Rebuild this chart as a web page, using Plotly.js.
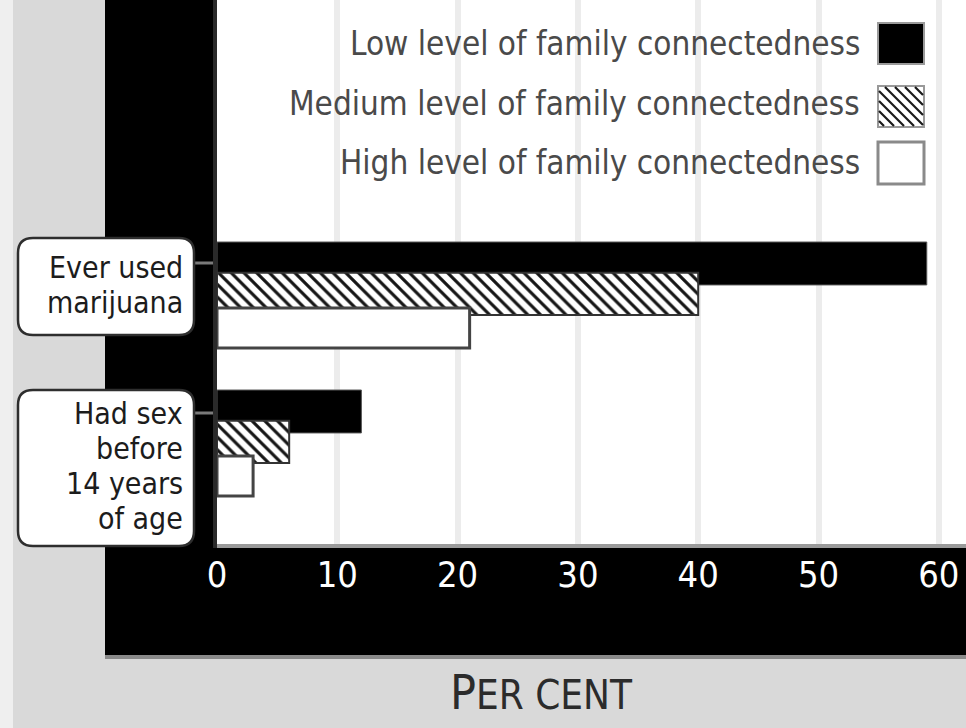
<!DOCTYPE html>
<html>
<head>
<meta charset="utf-8">
<script src="https://cdn.plot.ly/plotly-3.0.1.min.js"></script>
<style>
  html, body { margin: 0; padding: 0; background: #d9d9d9; }
  #chart { width: 966px; height: 728px; }
</style>
</head>
<body>
<div id="chart"></div>
<script>
// Share of teenagers by level of family connectedness (per cent)
const categories = ['Ever used marijuana', 'Had sex before 14 years of age'];
const categoryLines = [['Ever used', 'marijuana'], ['Had sex', 'before', '14 years', 'of age']];
const seriesNames = [
  'Low level of family connectedness',
  'Medium level of family connectedness',
  'High level of family connectedness'
];
const lowValues = [59, 12];
const mediumValues = [40, 6];
const highValues = [21, 3];
const xTickValues = [0, 10, 20, 30, 40, 50, 60];
const xTickLabels = ['0', '10', '20', '30', '40', '50', '60'];
const axisTitle = 'P<span style="font-size:40px">ER CENT</span>';

// page geometry (pixels)
const W = 966, H = 728;
const M = { l: 213, r: 0, t: 0, b: 184 };
const plotW = W - M.l - M.r, plotH = H - M.t - M.b;
const px = x => (x - M.l) / plotW;           // pixel x -> paper x
const py = y => (M.t + plotH - y) / plotH;   // pixel y -> paper y

const FONT = '"DejaVu Sans Condensed", "DejaVu Sans", sans-serif';

function rect(x0, y0, x1, y1, fill, layer, line) {
  return {
    type: 'rect', xref: 'paper', yref: 'paper', layer: layer || 'below',
    x0: px(x0), x1: px(x1), y0: py(y1), y1: py(y0),
    fillcolor: fill, line: line || { width: 0 }
  };
}

function roundRect(x0, y0, x1, y1, r) {
  const P = (x, y) => px(x) + ',' + py(y);
  const d = 'M' + P(x0 + r, y0) +
    ' L' + P(x1 - r, y0) + ' Q' + P(x1, y0) + ' ' + P(x1, y0 + r) +
    ' L' + P(x1, y1 - r) + ' Q' + P(x1, y1) + ' ' + P(x1 - r, y1) +
    ' L' + P(x0 + r, y1) + ' Q' + P(x0, y1) + ' ' + P(x0, y1 - r) +
    ' L' + P(x0, y0 + r) + ' Q' + P(x0, y0) + ' ' + P(x0 + r, y0) + ' Z';
  return {
    type: 'path', xref: 'paper', yref: 'paper', layer: 'above', path: d,
    fillcolor: 'white', line: { color: '#2e2e2e', width: 2.5 }
  };
}

function line(x0, y0, x1, y1, color, width) {
  return {
    type: 'line', xref: 'paper', yref: 'paper', layer: 'above',
    x0: px(x0), x1: px(x1), y0: py(y0), y1: py(y1),
    line: { color: color, width: width }
  };
}

// diagonal "\" hatching inside a legend swatch
function hatchPath(x0, y0, x1, y1, step) {
  const w = x1 - x0, h = y1 - y0;
  let d = '';
  for (let c = -h + step / 2; c < w; c += step) {
    let ya = Math.max(0, -c), yb = Math.min(h, w - c);
    if (yb <= ya) continue;
    d += 'M' + px(x0 + ya + c) + ',' + py(y0 + ya) + ' L' + px(x0 + yb + c) + ',' + py(y0 + yb) + ' ';
  }
  return {
    type: 'path', xref: 'paper', yref: 'paper', layer: 'above', path: d,
    line: { color: '#1a1a1a', width: 2.2 }
  };
}

const traces = [
  {
    type: 'bar', orientation: 'h', name: seriesNames[0],
    y: categories, x: lowValues, offset: -0.358, width: 0.29,
    marker: { color: '#000000', line: { color: '#555', width: 1 } },
    hoverinfo: 'skip', showlegend: false
  },
  {
    type: 'bar', orientation: 'h', name: seriesNames[1],
    y: categories, x: mediumValues, offset: -0.150, width: 0.285,
    marker: {
      color: 'white',
      pattern: { shape: '\\', fgcolor: '#151515', bgcolor: 'white', size: 9, solidity: 0.35 },
      line: { color: '#333', width: 2 }
    },
    hoverinfo: 'skip', showlegend: false
  },
  {
    type: 'bar', orientation: 'h', name: seriesNames[2],
    y: categories, x: highValues, offset: 0.088, width: 0.27,
    marker: { color: 'white', line: { color: '#444', width: 3 } },
    hoverinfo: 'skip', showlegend: false
  }
];

// category label boxes and their tick dashes
const LABEL_SIZE = 30, LABEL_STEP = 35;
const boxes = [
  { x0: 18, y0: 238, x1: 194, y1: 335, tickY: 263, textMid: 285 },
  { x0: 18, y0: 390, x1: 194, y1: 546, tickY: 413, textMid: 466 }
];

const shapes = [
  rect(0, 0, 13, H, '#efefef'),
  rect(105, 0, 213, 655, '#000000'),
  rect(217, 544, W, 548, '#9a9a9a'),
  rect(105, 548, W, 655, '#000000'),
  rect(105, 655, W, 659, '#8a8a8a'),
  rect(213, 0, 217, 548, '#2a2a2a', 'above')
];

const annotations = [];
boxes.forEach((b, i) => {
  shapes.push(line(194, b.tickY, 213, b.tickY, '#7a7a7a', 3));
  shapes.push(roundRect(b.x0, b.y0, b.x1, b.y1, 15));
  const lines = categoryLines[i];
  lines.forEach((t, j) => {
    const yMid = b.textMid + (j - (lines.length - 1) / 2) * LABEL_STEP;
    annotations.push({
      xref: 'paper', yref: 'paper', x: px(185), y: py(yMid),
      xanchor: 'right', yanchor: 'middle', showarrow: false, text: t,
      font: { family: FONT, size: LABEL_SIZE, color: '#1c1c1c' }
    });
  });
});

// legend rows: text right-aligned, swatch on the right
const legendRows = [
  { ty: 43, sy0: 23, sy1: 64 },
  { ty: 103, sy0: 86, sy1: 127 },
  { ty: 162, sy0: 142, sy1: 184 }
];
legendRows.forEach((r, i) => {
  annotations.push({
    xref: 'paper', yref: 'paper', x: px(862), y: py(r.ty),
    xanchor: 'right', yanchor: 'middle', showarrow: false, text: seriesNames[i],
    font: { family: FONT, size: 33, color: '#4a4a4a' }
  });
});
shapes.push(rect(878, legendRows[0].sy0, 924, legendRows[0].sy1, '#000000', 'above', { color: '#9a9a9a', width: 2 }));
shapes.push(rect(878, legendRows[1].sy0, 924, legendRows[1].sy1, 'white', 'above', { color: '#999', width: 2 }));
shapes.push(hatchPath(879, legendRows[1].sy0 + 1, 923, legendRows[1].sy1 - 1, 10));
shapes.push(rect(878, legendRows[2].sy0, 924, legendRows[2].sy1, 'white', 'above', { color: '#8a8a8a', width: 3 }));

annotations.push({
  xref: 'paper', yref: 'paper', x: px(541), y: py(692),
  xanchor: 'center', yanchor: 'middle', showarrow: false, text: axisTitle,
  font: { family: FONT, size: 48, color: '#2b2b2b' }
});

const x0 = -(217 - M.l) / 12.03;
const layout = {
  width: W, height: H, margin: M,
  paper_bgcolor: '#d9d9d9', plot_bgcolor: 'white',
  barmode: 'overlay', showlegend: false,
  xaxis: {
    range: [x0, (W - 217) / 12.03],
    tickmode: 'array', tickvals: xTickValues, ticktext: xTickLabels,
    showgrid: true, gridcolor: '#ececec', gridwidth: 6,
    zeroline: true, zerolinecolor: 'white', zerolinewidth: 6,
    ticks: '', showline: false, ticklabelstandoff: 6,
    tickfont: { family: FONT, size: 36, color: 'white' },
    fixedrange: true
  },
  yaxis: {
    type: 'category', categoryarray: categories,
    range: [1 + (plotH - 443) / 148, -295 / 148],
    showticklabels: false, showgrid: false, zeroline: false, ticks: '',
    fixedrange: true
  },
  shapes: shapes,
  annotations: annotations
};

Plotly.newPlot('chart', traces, layout, { displayModeBar: false, staticPlot: true });
</script>
</body>
</html>
